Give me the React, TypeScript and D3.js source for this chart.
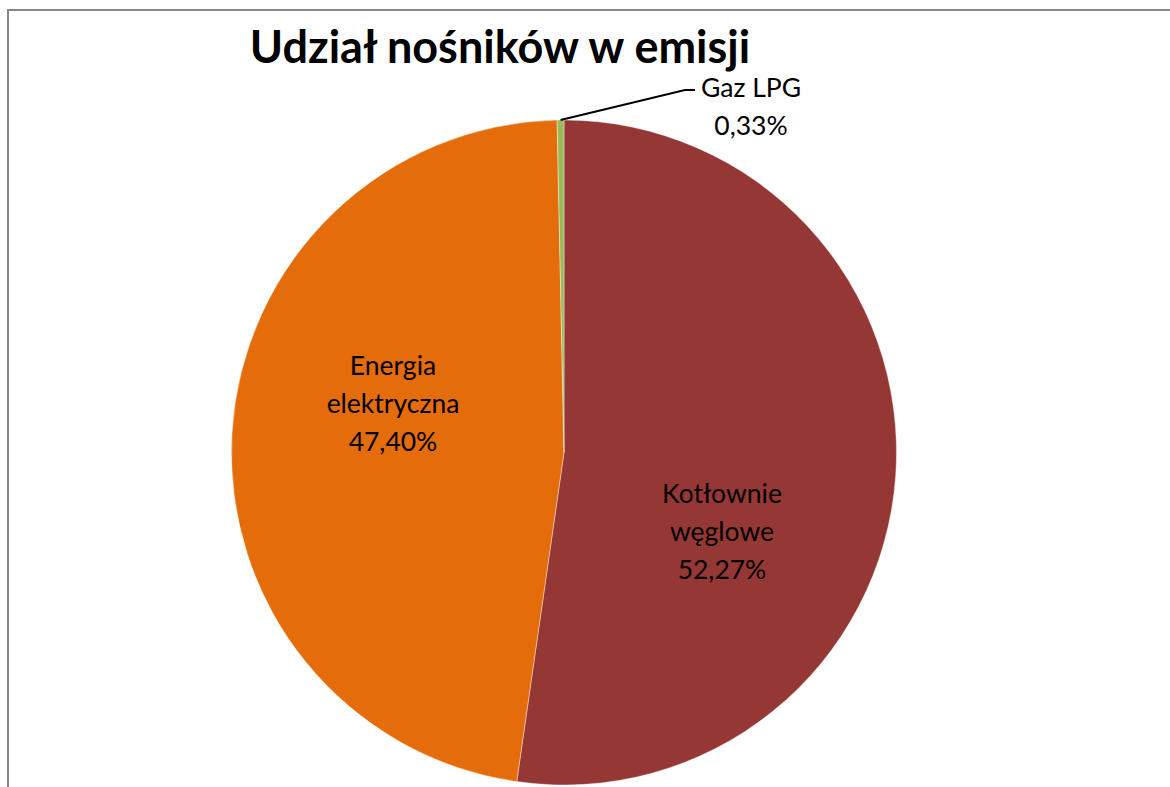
import React from "react";
import * as d3 from "d3";

const categories = ["Kotłownie węglowe", "Energia elektryczna", "Gaz LPG"];
const labelLines = [["Kotłownie", "węglowe"], ["Energia", "elektryczna"], ["Gaz LPG"]];
const shares = [52.27, 47.4, 0.33];
const colors = ["#953735", "#E46C0A", "#9BBB59"];
const title = "Udział nośników w emisji";

const W = 1170;
const H = 787;
const cx = 564;
const cy = 452.5;
const R = 332.5;
// label block anchors (Excel "best fit" placement)
const labelAnchors: [number, number][] = [
  [722, 503],
  [393, 375],
  [751, 97],
];
const lineGap = 38;
const fmt = (v: number) => v.toFixed(2).replace(".", ",") + "%";

export default function App() {
  const pie = d3
    .pie<number>()
    .sort(null)
    .value((d) => d);
  const arcs = pie(shares);
  const arc = d3.arc<d3.PieArcDatum<number>>().innerRadius(0).outerRadius(R);
  const font = "Lato, 'Open Sans', sans-serif";

  // leader line for small slice
  const g = arcs[2];
  const mid = (g.startAngle + g.endAngle) / 2;
  const lx0 = cx + R * Math.sin(mid);
  const ly0 = cy - R * Math.cos(mid);
  const [gx, gy] = labelAnchors[2];
  const leader = d3.line()([
    [lx0, ly0],
    [gx - 66, gy - 7],
    [gx - 56, gy - 7],
  ]);

  return (
    <svg
      width={W}
      height={H}
      style={{ position: "absolute", left: 0, top: 0, background: "#fff" }}
    >
      <rect x={8} y={10} width={W + 20} height={H + 20} fill="#fff" stroke="#888" strokeWidth={2} />
      <text
        x={500}
        y={63}
        textAnchor="middle"
        fontFamily={font}
        fontWeight={700}
        fontSize={45}
        fill="#000"
      >
        {title}
      </text>
      <g transform={`translate(${cx},${cy})`}>
        {arcs.map((a, i) => (
          <path key={categories[i]} d={arc(a) || ""} fill={colors[i]} stroke="#fff" strokeWidth={0.4} />
        ))}
      </g>
      <path d={leader || ""} fill="none" stroke="#000" strokeWidth={2} />
      {arcs.map((a, i) => {
        const [x, y] = labelAnchors[i];
        const lines = [...labelLines[i], fmt(shares[i])];
        return (
          <text key={i} textAnchor="middle" fontFamily={font} fontSize={26.5} fill="#000">
            {lines.map((t, k) => (
              <tspan key={k} x={x} y={y + k * lineGap}>
                {t}
              </tspan>
            ))}
          </text>
        );
      })}
    </svg>
  );
}
